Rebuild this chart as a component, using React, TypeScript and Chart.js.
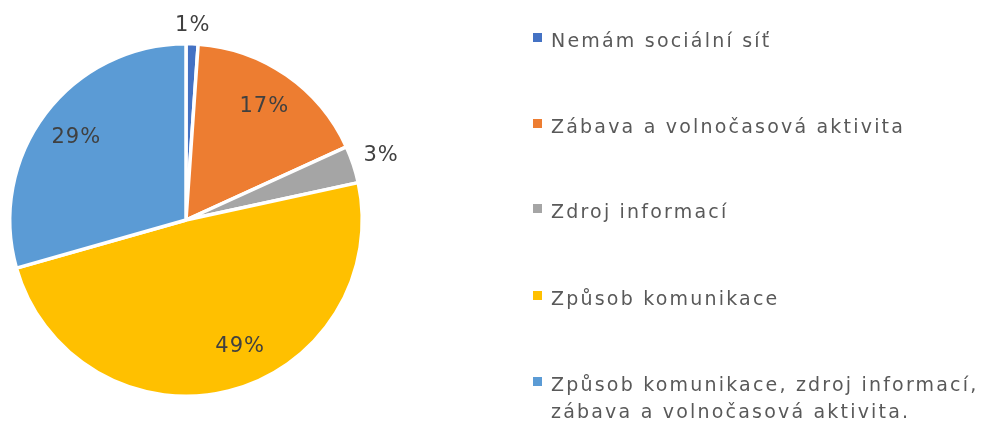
import React, { useEffect, useRef } from "react";
import { Chart, registerables } from "chart.js";

Chart.register(...registerables);

const categories = [
  "Nemám sociální síť",
  "Zábava a volnočasová aktivita",
  "Zdroj informací",
  "Způsob komunikace",
  "Způsob komunikace, zdroj informací, zábava a volnočasová aktivita.",
];
const legendLines = [
  ["Nemám sociální síť"],
  ["Zábava a volnočasová aktivita"],
  ["Zdroj informací"],
  ["Způsob komunikace"],
  ["Způsob komunikace, zdroj informací,", "zábava a volnočasová aktivita."],
];
const values = [1.1, 17.1, 3.4, 49.0, 29.4];
const colors = ["#4472C4", "#ED7D31", "#A5A5A5", "#FFC000", "#5B9BD5"];

const FONT = "'DejaVu Sans', sans-serif";

const labelPlugin = {
  id: "customLabels",
  afterDraw(chart: any) {
    const ctx = chart.ctx;
    const meta = chart.getDatasetMeta(0);
    const total = values.reduce((a, b) => a + b, 0);
    ctx.save();
    ctx.font = `21px ${FONT}`;
    (ctx as any).letterSpacing = "1px";
    ctx.fillStyle = "#404040";
    ctx.textAlign = "center";
    ctx.textBaseline = "middle";
    meta.data.forEach((arc: any, i: number) => {
      const p = arc.getProps(["x", "y", "startAngle", "endAngle", "outerRadius"], true);
      let mid = (p.startAngle + p.endAngle) / 2;
      const pct = (values[i] / total) * 100;
      const text = Math.round(pct) + "%";
      if (pct > 40) mid -= 0.16;
      let r;
      if (pct < 5) {
        const halfW = ctx.measureText(text).width / 2;
        r = p.outerRadius + 10 + Math.abs(Math.cos(mid)) * halfW + Math.abs(Math.sin(mid)) * 8;
      } else {
        r = p.outerRadius * 0.78;
      }
      const x = p.x + Math.cos(mid) * r;
      const y = p.y + Math.sin(mid) * r;
      ctx.fillText(text, x, y);
    });
    // legend
    ctx.textAlign = "left";
    ctx.textBaseline = "alphabetic";
    ctx.font = `19px ${FONT}`;
    (ctx as any).letterSpacing = "2.2px";
    const rows = [47, 133, 218, 305, 391];
    legendLines.forEach((lines, i) => {
      ctx.fillStyle = colors[i];
      ctx.fillRect(533, rows[i] - 14, 9, 9);
      ctx.fillStyle = "#595959";
      lines.forEach((t, j) => {
        ctx.fillText(t, 551, rows[i] + j * 27);
      });
    });
    ctx.restore();
  },
};

export default function App() {
  const ref = useRef<HTMLCanvasElement>(null);
  useEffect(() => {
    document.body.style.margin = "0";
    const chart = new Chart(ref.current!, {
      type: "pie",
      data: {
        labels: categories,
        datasets: [
          {
            data: values,
            backgroundColor: colors,
            borderColor: "#ffffff",
            borderWidth: 3.5,
          },
        ],
      },
      options: {
        animation: false,
        responsive: false,
        layout: { padding: { left: 8, right: 626, top: 42, bottom: 30 } },
        plugins: {
          legend: { display: false },
          tooltip: { enabled: false },
        },
      },
      plugins: [labelPlugin],
    });
    return () => chart.destroy();
  }, []);
  return (
    <div style={{ width: 990, height: 428, background: "#fff" }}>
      <canvas ref={ref} width={990} height={428} />
    </div>
  );
}
